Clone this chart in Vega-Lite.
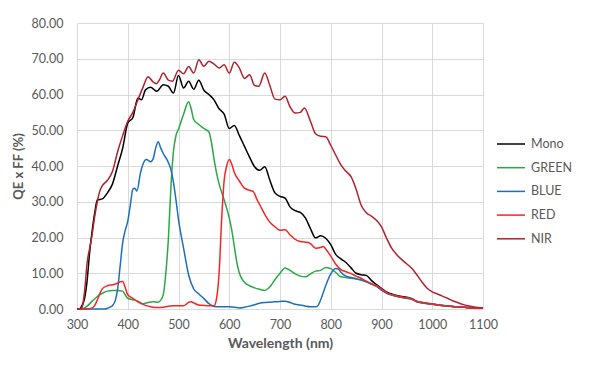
{
  "$schema": "https://vega.github.io/schema/vega-lite/v6.json",
  "autosize": {"type": "none"},
  "padding": {"left": 77, "top": 23, "right": 106, "bottom": 59},
  "width": 406,
  "height": 286,
  "background": "white",
  "config": {
    "font": "Lato",
    "view": {"stroke": null}
  },
  "datasets": {
    "qe": [
      {"s":"Mono","w":300,"v":0},{"s":"Mono","w":305,"v":0},{"s":"Mono","w":310,"v":1},{"s":"Mono","w":315,"v":3},{"s":"Mono","w":320,"v":8},{"s":"Mono","w":325,"v":16},{"s":"Mono","w":330,"v":22},{"s":"Mono","w":335,"v":27},{"s":"Mono","w":340,"v":30.5},{"s":"Mono","w":350,"v":30.8},{"s":"Mono","w":360,"v":32.5},{"s":"Mono","w":370,"v":35},{"s":"Mono","w":380,"v":40},{"s":"Mono","w":390,"v":45},{"s":"Mono","w":400,"v":52},{"s":"Mono","w":410,"v":53.5},{"s":"Mono","w":420,"v":59},{"s":"Mono","w":427,"v":58.5},{"s":"Mono","w":435,"v":61.3},{"s":"Mono","w":445,"v":62},{"s":"Mono","w":457,"v":60.9},{"s":"Mono","w":470,"v":62.7},{"s":"Mono","w":480,"v":62.3},{"s":"Mono","w":490,"v":60.4},{"s":"Mono","w":500,"v":65.3},{"s":"Mono","w":510,"v":61.8},{"s":"Mono","w":520,"v":63.7},{"s":"Mono","w":530,"v":61.5},{"s":"Mono","w":540,"v":64},{"s":"Mono","w":550,"v":61.2},{"s":"Mono","w":560,"v":60},{"s":"Mono","w":570,"v":58.5},{"s":"Mono","w":580,"v":56},{"s":"Mono","w":590,"v":54.5},{"s":"Mono","w":600,"v":50.5},{"s":"Mono","w":610,"v":51.3},{"s":"Mono","w":620,"v":48.5},{"s":"Mono","w":630,"v":45.5},{"s":"Mono","w":640,"v":42.5},{"s":"Mono","w":650,"v":39.8},{"s":"Mono","w":660,"v":38.8},{"s":"Mono","w":670,"v":39.8},{"s":"Mono","w":680,"v":36},{"s":"Mono","w":690,"v":32.5},{"s":"Mono","w":700,"v":31.5},{"s":"Mono","w":710,"v":31},{"s":"Mono","w":720,"v":28.5},{"s":"Mono","w":730,"v":27.5},{"s":"Mono","w":740,"v":27},{"s":"Mono","w":750,"v":25.5},{"s":"Mono","w":760,"v":22.5},{"s":"Mono","w":770,"v":19.9},{"s":"Mono","w":780,"v":20.5},{"s":"Mono","w":790,"v":19.8},{"s":"Mono","w":800,"v":18},{"s":"Mono","w":810,"v":15.2},{"s":"Mono","w":820,"v":14},{"s":"Mono","w":830,"v":13},{"s":"Mono","w":840,"v":11.5},{"s":"Mono","w":850,"v":10},{"s":"Mono","w":860,"v":9.6},{"s":"Mono","w":870,"v":9.4},{"s":"Mono","w":880,"v":8},{"s":"Mono","w":890,"v":6.8},{"s":"Mono","w":900,"v":5.8},{"s":"Mono","w":910,"v":4.8},{"s":"Mono","w":920,"v":4.2},{"s":"Mono","w":940,"v":3.5},{"s":"Mono","w":960,"v":2.9},{"s":"Mono","w":970,"v":2.1},{"s":"Mono","w":980,"v":1.8},{"s":"Mono","w":1000,"v":1.4},{"s":"Mono","w":1020,"v":1.0},{"s":"Mono","w":1050,"v":0.6},{"s":"Mono","w":1080,"v":0.3},{"s":"Mono","w":1100,"v":0.2},

      {"s":"GREEN","w":300,"v":0},{"s":"GREEN","w":310,"v":0},{"s":"GREEN","w":320,"v":0.8},{"s":"GREEN","w":330,"v":2.2},{"s":"GREEN","w":340,"v":3.5},{"s":"GREEN","w":350,"v":4.4},{"s":"GREEN","w":360,"v":5},{"s":"GREEN","w":370,"v":5.2},{"s":"GREEN","w":380,"v":5.2},{"s":"GREEN","w":390,"v":5},{"s":"GREEN","w":395,"v":4},{"s":"GREEN","w":400,"v":3},{"s":"GREEN","w":410,"v":2.6},{"s":"GREEN","w":420,"v":2.2},{"s":"GREEN","w":430,"v":1.5},{"s":"GREEN","w":440,"v":1.8},{"s":"GREEN","w":450,"v":2},{"s":"GREEN","w":460,"v":1.9},{"s":"GREEN","w":465,"v":2.5},{"s":"GREEN","w":470,"v":4},{"s":"GREEN","w":475,"v":10},{"s":"GREEN","w":480,"v":19.5},{"s":"GREEN","w":485,"v":34},{"s":"GREEN","w":490,"v":44},{"s":"GREEN","w":495,"v":48.5},{"s":"GREEN","w":500,"v":50.3},{"s":"GREEN","w":510,"v":54.5},{"s":"GREEN","w":520,"v":58},{"s":"GREEN","w":525,"v":56},{"s":"GREEN","w":530,"v":53},{"s":"GREEN","w":540,"v":51.6},{"s":"GREEN","w":550,"v":50.5},{"s":"GREEN","w":560,"v":49.5},{"s":"GREEN","w":565,"v":46.5},{"s":"GREEN","w":570,"v":42},{"s":"GREEN","w":575,"v":38},{"s":"GREEN","w":580,"v":35},{"s":"GREEN","w":590,"v":30.5},{"s":"GREEN","w":600,"v":25.5},{"s":"GREEN","w":605,"v":22},{"s":"GREEN","w":610,"v":17.5},{"s":"GREEN","w":615,"v":13},{"s":"GREEN","w":620,"v":10},{"s":"GREEN","w":630,"v":7.5},{"s":"GREEN","w":640,"v":6.5},{"s":"GREEN","w":650,"v":5.9},{"s":"GREEN","w":660,"v":5.5},{"s":"GREEN","w":670,"v":5.2},{"s":"GREEN","w":680,"v":6.2},{"s":"GREEN","w":690,"v":8.2},{"s":"GREEN","w":700,"v":10},{"s":"GREEN","w":710,"v":11.5},{"s":"GREEN","w":720,"v":10.8},{"s":"GREEN","w":730,"v":9.8},{"s":"GREEN","w":740,"v":9.2},{"s":"GREEN","w":750,"v":9},{"s":"GREEN","w":760,"v":9.8},{"s":"GREEN","w":770,"v":10.6},{"s":"GREEN","w":780,"v":10.8},{"s":"GREEN","w":790,"v":11.6},{"s":"GREEN","w":800,"v":11.3},{"s":"GREEN","w":810,"v":10.2},{"s":"GREEN","w":820,"v":9},{"s":"GREEN","w":830,"v":8.8},{"s":"GREEN","w":840,"v":8.6},{"s":"GREEN","w":850,"v":8.4},{"s":"GREEN","w":860,"v":8.1},{"s":"GREEN","w":870,"v":7.6},{"s":"GREEN","w":880,"v":7.0},{"s":"GREEN","w":890,"v":6.4},{"s":"GREEN","w":900,"v":5.4},{"s":"GREEN","w":910,"v":4.5},{"s":"GREEN","w":920,"v":4.0},{"s":"GREEN","w":940,"v":3.3},{"s":"GREEN","w":960,"v":2.8},{"s":"GREEN","w":970,"v":2.0},{"s":"GREEN","w":980,"v":1.8},{"s":"GREEN","w":1000,"v":1.3},{"s":"GREEN","w":1020,"v":1.0},{"s":"GREEN","w":1050,"v":0.6},{"s":"GREEN","w":1080,"v":0.3},{"s":"GREEN","w":1100,"v":0.2},

      {"s":"BLUE","w":300,"v":0},{"s":"BLUE","w":320,"v":0},{"s":"BLUE","w":340,"v":0},{"s":"BLUE","w":355,"v":0},{"s":"BLUE","w":360,"v":0.2},{"s":"BLUE","w":365,"v":0.5},{"s":"BLUE","w":370,"v":1.0},{"s":"BLUE","w":375,"v":2.2},{"s":"BLUE","w":380,"v":5.5},{"s":"BLUE","w":385,"v":12},{"s":"BLUE","w":390,"v":18.5},{"s":"BLUE","w":395,"v":22},{"s":"BLUE","w":400,"v":24.5},{"s":"BLUE","w":405,"v":29},{"s":"BLUE","w":410,"v":33.5},{"s":"BLUE","w":414,"v":33.8},{"s":"BLUE","w":418,"v":33},{"s":"BLUE","w":425,"v":38},{"s":"BLUE","w":430,"v":40.5},{"s":"BLUE","w":437,"v":41.8},{"s":"BLUE","w":445,"v":41.2},{"s":"BLUE","w":450,"v":42},{"s":"BLUE","w":455,"v":45},{"s":"BLUE","w":460,"v":46.8},{"s":"BLUE","w":465,"v":45},{"s":"BLUE","w":470,"v":43.5},{"s":"BLUE","w":480,"v":41},{"s":"BLUE","w":485,"v":39},{"s":"BLUE","w":490,"v":35.5},{"s":"BLUE","w":495,"v":30.5},{"s":"BLUE","w":500,"v":25},{"s":"BLUE","w":510,"v":17},{"s":"BLUE","w":520,"v":9.5},{"s":"BLUE","w":530,"v":5.6},{"s":"BLUE","w":540,"v":4.2},{"s":"BLUE","w":550,"v":2.9},{"s":"BLUE","w":560,"v":1.5},{"s":"BLUE","w":570,"v":0.7},{"s":"BLUE","w":580,"v":0.6},{"s":"BLUE","w":590,"v":0.6},{"s":"BLUE","w":600,"v":0.6},{"s":"BLUE","w":610,"v":0.5},{"s":"BLUE","w":620,"v":0.3},{"s":"BLUE","w":630,"v":0.5},{"s":"BLUE","w":640,"v":0.8},{"s":"BLUE","w":650,"v":1.2},{"s":"BLUE","w":660,"v":1.6},{"s":"BLUE","w":670,"v":1.8},{"s":"BLUE","w":680,"v":1.9},{"s":"BLUE","w":690,"v":2.0},{"s":"BLUE","w":700,"v":2.1},{"s":"BLUE","w":710,"v":2.2},{"s":"BLUE","w":720,"v":1.8},{"s":"BLUE","w":730,"v":1.3},{"s":"BLUE","w":740,"v":1.1},{"s":"BLUE","w":750,"v":0.8},{"s":"BLUE","w":760,"v":0.6},{"s":"BLUE","w":770,"v":0.6},{"s":"BLUE","w":775,"v":1},{"s":"BLUE","w":780,"v":2.5},{"s":"BLUE","w":790,"v":6.5},{"s":"BLUE","w":800,"v":9.8},{"s":"BLUE","w":810,"v":11.3},{"s":"BLUE","w":815,"v":11.2},{"s":"BLUE","w":820,"v":10.3},{"s":"BLUE","w":830,"v":9.2},{"s":"BLUE","w":840,"v":8.8},{"s":"BLUE","w":850,"v":8.5},{"s":"BLUE","w":860,"v":8.1},{"s":"BLUE","w":870,"v":7.6},{"s":"BLUE","w":880,"v":7.0},{"s":"BLUE","w":890,"v":6.3},{"s":"BLUE","w":900,"v":5.3},{"s":"BLUE","w":910,"v":4.4},{"s":"BLUE","w":920,"v":3.9},{"s":"BLUE","w":940,"v":3.2},{"s":"BLUE","w":960,"v":2.7},{"s":"BLUE","w":970,"v":2.0},{"s":"BLUE","w":980,"v":1.7},{"s":"BLUE","w":1000,"v":1.3},{"s":"BLUE","w":1020,"v":1.0},{"s":"BLUE","w":1050,"v":0.6},{"s":"BLUE","w":1080,"v":0.3},{"s":"BLUE","w":1100,"v":0.2},

      {"s":"RED","w":300,"v":0},{"s":"RED","w":320,"v":0},{"s":"RED","w":330,"v":0.3},{"s":"RED","w":335,"v":1},{"s":"RED","w":340,"v":2.5},{"s":"RED","w":345,"v":4.3},{"s":"RED","w":350,"v":5.7},{"s":"RED","w":360,"v":6.5},{"s":"RED","w":370,"v":6.8},{"s":"RED","w":380,"v":7.2},{"s":"RED","w":385,"v":7.6},{"s":"RED","w":390,"v":7.7},{"s":"RED","w":395,"v":6},{"s":"RED","w":400,"v":4},{"s":"RED","w":410,"v":3},{"s":"RED","w":420,"v":2},{"s":"RED","w":430,"v":1.3},{"s":"RED","w":440,"v":0.8},{"s":"RED","w":450,"v":0.5},{"s":"RED","w":460,"v":0.4},{"s":"RED","w":470,"v":0.5},{"s":"RED","w":480,"v":0.8},{"s":"RED","w":490,"v":0.9},{"s":"RED","w":500,"v":0.9},{"s":"RED","w":510,"v":0.9},{"s":"RED","w":515,"v":1.3},{"s":"RED","w":520,"v":1.9},{"s":"RED","w":525,"v":2},{"s":"RED","w":530,"v":1.7},{"s":"RED","w":540,"v":1.1},{"s":"RED","w":550,"v":1.0},{"s":"RED","w":560,"v":0.9},{"s":"RED","w":570,"v":0.9},{"s":"RED","w":575,"v":3},{"s":"RED","w":580,"v":10},{"s":"RED","w":585,"v":25},{"s":"RED","w":590,"v":36},{"s":"RED","w":595,"v":40},{"s":"RED","w":600,"v":41.8},{"s":"RED","w":605,"v":40.5},{"s":"RED","w":610,"v":38.2},{"s":"RED","w":620,"v":35.8},{"s":"RED","w":630,"v":33.8},{"s":"RED","w":640,"v":33.2},{"s":"RED","w":647,"v":32.9},{"s":"RED","w":655,"v":30.5},{"s":"RED","w":660,"v":29.2},{"s":"RED","w":670,"v":26.5},{"s":"RED","w":680,"v":24.3},{"s":"RED","w":690,"v":23},{"s":"RED","w":700,"v":22},{"s":"RED","w":710,"v":22.2},{"s":"RED","w":720,"v":20.7},{"s":"RED","w":730,"v":19.5},{"s":"RED","w":740,"v":18.9},{"s":"RED","w":750,"v":18.7},{"s":"RED","w":760,"v":18.3},{"s":"RED","w":770,"v":17},{"s":"RED","w":780,"v":17.2},{"s":"RED","w":785,"v":17.5},{"s":"RED","w":790,"v":16.8},{"s":"RED","w":800,"v":14.8},{"s":"RED","w":810,"v":12.5},{"s":"RED","w":820,"v":11},{"s":"RED","w":830,"v":10.4},{"s":"RED","w":840,"v":9.9},{"s":"RED","w":850,"v":9.2},{"s":"RED","w":860,"v":8.6},{"s":"RED","w":870,"v":7.8},{"s":"RED","w":880,"v":7.1},{"s":"RED","w":890,"v":6.5},{"s":"RED","w":900,"v":5.6},{"s":"RED","w":910,"v":4.6},{"s":"RED","w":920,"v":4.0},{"s":"RED","w":940,"v":3.3},{"s":"RED","w":960,"v":2.8},{"s":"RED","w":970,"v":2.1},{"s":"RED","w":980,"v":1.8},{"s":"RED","w":1000,"v":1.3},{"s":"RED","w":1020,"v":1.0},{"s":"RED","w":1050,"v":0.6},{"s":"RED","w":1080,"v":0.3},{"s":"RED","w":1100,"v":0.2},

      {"s":"NIR","w":300,"v":0},{"s":"NIR","w":305,"v":0},{"s":"NIR","w":310,"v":0.5},{"s":"NIR","w":315,"v":5},{"s":"NIR","w":320,"v":13},{"s":"NIR","w":325,"v":17},{"s":"NIR","w":330,"v":21},{"s":"NIR","w":335,"v":26},{"s":"NIR","w":340,"v":30},{"s":"NIR","w":345,"v":33},{"s":"NIR","w":350,"v":34.5},{"s":"NIR","w":360,"v":36},{"s":"NIR","w":370,"v":38.5},{"s":"NIR","w":380,"v":44},{"s":"NIR","w":390,"v":48.5},{"s":"NIR","w":400,"v":52.5},{"s":"NIR","w":410,"v":55},{"s":"NIR","w":420,"v":58.5},{"s":"NIR","w":430,"v":62},{"s":"NIR","w":440,"v":65},{"s":"NIR","w":450,"v":63.5},{"s":"NIR","w":456,"v":63},{"s":"NIR","w":462,"v":64},{"s":"NIR","w":470,"v":66},{"s":"NIR","w":480,"v":64},{"s":"NIR","w":488,"v":63.7},{"s":"NIR","w":500,"v":66.8},{"s":"NIR","w":510,"v":65.8},{"s":"NIR","w":520,"v":67.8},{"s":"NIR","w":530,"v":66},{"s":"NIR","w":540,"v":69.7},{"s":"NIR","w":550,"v":67.9},{"s":"NIR","w":560,"v":69.3},{"s":"NIR","w":570,"v":68.5},{"s":"NIR","w":580,"v":67.4},{"s":"NIR","w":590,"v":68.3},{"s":"NIR","w":600,"v":66},{"s":"NIR","w":610,"v":69},{"s":"NIR","w":620,"v":67.4},{"s":"NIR","w":630,"v":64.5},{"s":"NIR","w":640,"v":65.5},{"s":"NIR","w":650,"v":62.5},{"s":"NIR","w":658,"v":62.3},{"s":"NIR","w":670,"v":66},{"s":"NIR","w":680,"v":62.5},{"s":"NIR","w":690,"v":58.7},{"s":"NIR","w":700,"v":58.5},{"s":"NIR","w":710,"v":59.5},{"s":"NIR","w":720,"v":56.5},{"s":"NIR","w":730,"v":54.8},{"s":"NIR","w":740,"v":55},{"s":"NIR","w":748,"v":56.2},{"s":"NIR","w":760,"v":52.5},{"s":"NIR","w":770,"v":49},{"s":"NIR","w":780,"v":48.3},{"s":"NIR","w":790,"v":48.2},{"s":"NIR","w":800,"v":45.8},{"s":"NIR","w":810,"v":43},{"s":"NIR","w":820,"v":40.3},{"s":"NIR","w":830,"v":38.5},{"s":"NIR","w":840,"v":37},{"s":"NIR","w":850,"v":33.5},{"s":"NIR","w":860,"v":29},{"s":"NIR","w":870,"v":26.9},{"s":"NIR","w":880,"v":26},{"s":"NIR","w":890,"v":24.8},{"s":"NIR","w":900,"v":23},{"s":"NIR","w":910,"v":19.8},{"s":"NIR","w":920,"v":17},{"s":"NIR","w":930,"v":15.2},{"s":"NIR","w":940,"v":13.8},{"s":"NIR","w":950,"v":12.6},{"s":"NIR","w":960,"v":11.3},{"s":"NIR","w":970,"v":9.5},{"s":"NIR","w":980,"v":7.5},{"s":"NIR","w":990,"v":5.8},{"s":"NIR","w":1000,"v":4.8},{"s":"NIR","w":1010,"v":4.2},{"s":"NIR","w":1020,"v":3.6},{"s":"NIR","w":1030,"v":3},{"s":"NIR","w":1040,"v":2.3},{"s":"NIR","w":1050,"v":1.8},{"s":"NIR","w":1060,"v":1.3},{"s":"NIR","w":1070,"v":0.9},{"s":"NIR","w":1080,"v":0.6},{"s":"NIR","w":1090,"v":0.4},{"s":"NIR","w":1100,"v":0.3}
    ]
  },
  "data": {"name": "qe"},
  "mark": {"type": "line", "interpolate": "monotone", "strokeWidth": 1.5},
  "encoding": {
    "x": {
      "field": "w", "type": "quantitative",
      "scale": {"domain": [300, 1100], "nice": false, "zero": false},
      "axis": {
        "title": "Wavelength (nm)",
        "values": [300, 400, 500, 600, 700, 800, 900, 1000, 1100],
        "format": "d",
        "labelFlush": false,
        "labelOverlap": false,
        "grid": true, "gridColor": "#d9d9d9", "gridWidth": 1,
        "domain": false, "ticks": false,
        "labelFont": "Lato", "labelFontSize": 12.5, "labelColor": "#595959", "labelPadding": 9,
        "titleFont": "Lato", "titleFontSize": 14, "titleFontWeight": "bold", "titleColor": "#595959", "titlePadding": 6
      }
    },
    "y": {
      "field": "v", "type": "quantitative",
      "scale": {"domain": [0, 80], "nice": false},
      "axis": {
        "title": "QE x FF (%)",
        "values": [0, 10, 20, 30, 40, 50, 60, 70, 80],
        "format": ".2f",
        "labelFlush": false,
        "grid": true, "gridColor": "#d9d9d9", "gridWidth": 1,
        "domain": false, "ticks": false,
        "labelFont": "Lato", "labelFontSize": 12.5, "labelColor": "#595959", "labelPadding": 14,
        "titleFont": "Lato", "titleFontSize": 13, "titleFontWeight": "bold", "titleColor": "#595959", "titlePadding": 6
      }
    },
    "color": {
      "field": "s", "type": "nominal",
      "scale": {
        "domain": ["Mono", "GREEN", "BLUE", "RED", "NIR"],
        "range": ["#000000", "#2aa845", "#1f6dbf", "#f52525", "#b0222c"]
      },
      "legend": {
        "title": null,
        "orient": "none",
        "legendX": 419,
        "legendY": 106,
        "symbolType": "stroke",
        "symbolSize": 784,
        "symbolStrokeWidth": 1.5,
        "rowPadding": 1.7,
        "labelOffset": 5,
        "labelFont": "Lato", "labelFontSize": 12.5, "labelColor": "#595959"
      }
    }
  }
}
